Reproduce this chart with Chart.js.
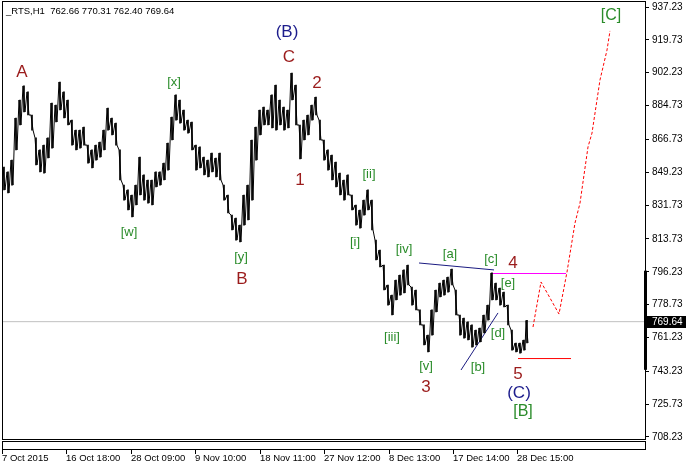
<!DOCTYPE html>
<html>
<head>
<meta charset="utf-8">
<script src="https://cdn.jsdelivr.net/npm/chart.js@4.4.1/dist/chart.umd.min.js"></script>
<style>
  body { margin: 0; background: #fff; }
  #chart { display: block; }
</style>
</head>
<body>
<canvas id="chart" width="686" height="470"></canvas>
<script>
// =========================
// DATA
// =========================

const symbolName = '_RTS,H1';
const lastBarOHLC = [762.66, 770.31, 762.40, 769.64];

const priceTicks = [708.23, 725.73, 743.23, 761.23, 778.73, 796.23, 813.73, 831.73, 849.23, 866.73, 884.73, 902.23, 919.73, 937.23];
const timeTickIndex = [0, 64, 129, 193, 258, 322, 387, 451, 515];
const timeTickLabels = ['7 Oct 2015', '16 Oct 18:00', '28 Oct 09:00', '9 Nov 10:00', '18 Nov 11:00',
                        '27 Nov 12:00', '8 Dec 13:00', '17 Dec 14:00', '28 Dec 15:00'];

// H1 bars, sampled every 4 bars: high / low of each group
const barIndex = [1, 5, 9, 13, 17, 21, 25, 29, 33, 37, 41, 45, 49, 53, 57, 61, 65, 69, 73, 77,
                  81, 85, 89, 93, 97, 101, 105, 109, 113, 117, 121, 125, 129, 133, 137, 141, 145, 149, 153, 157,
                  161, 165, 169, 173, 177, 181, 185, 189, 193, 197, 201, 205, 209, 213, 217, 221, 225, 229, 233, 237,
                  241, 245, 249, 253, 257, 261, 265, 269, 273, 277, 281, 285, 289, 293, 297, 301, 305, 309, 313, 317,
                  321, 325, 329, 333, 337, 341, 345, 349, 353, 357, 361, 365, 369, 373, 377, 381, 385, 389, 393, 397,
                  401, 405, 409, 413, 417, 421, 425, 429, 433, 437, 441, 445, 449, 453, 457, 461, 465, 469, 473, 477,
                  481, 485, 489, 493, 497, 501, 505, 509, 513, 517, 521, 524];
const highs = [852.0, 849.4, 855.7, 878.1, 887.7, 895.2, 892.0, 879.7, 867.5, 861.1, 863.7, 867.5, 886.1, 885.0, 897.3, 892.0, 887.7, 877.0, 871.7, 871.7,
               873.3, 863.7, 861.1, 863.7, 865.3, 871.7, 883.4, 878.1, 875.4, 861.1, 842.4, 839.8, 837.1, 842.4, 857.3, 847.8, 845.1, 845.1, 849.4, 849.4,
               854.1, 864.8, 878.6, 890.4, 887.7, 882.4, 877.0, 876.0, 863.7, 862.7, 857.3, 855.7, 859.5, 856.8, 859.5, 842.4, 837.1, 826.4, 824.8, 821.1,
               837.1, 842.4, 866.4, 873.3, 882.4, 884.0, 882.4, 890.4, 895.7, 887.7, 884.0, 882.4, 902.1, 895.7, 874.4, 877.0, 879.7, 885.0, 889.3, 877.0,
               866.4, 861.1, 858.4, 854.7, 848.8, 845.1, 847.8, 837.1, 831.8, 829.1, 834.4, 839.8, 834.4, 813.1, 807.8, 799.8, 789.2, 783.8, 791.8, 794.5,
               797.2, 799.8, 788.1, 786.5, 775.9, 767.9, 762.5, 775.9, 786.5, 790.2, 791.8, 793.4, 797.7, 786.5, 773.2, 771.6, 769.5, 767.9, 765.2, 766.3,
               773.2, 778.5, 795.6, 790.2, 787.6, 785.4, 778.5, 765.2, 758.3, 758.3, 759.9, 770.3];
const lows = [839.8, 838.2, 842.4, 861.1, 874.4, 881.3, 879.7, 871.7, 853.1, 849.4, 848.8, 856.8, 862.1, 876.0, 882.4, 878.1, 874.4, 863.7, 861.1, 862.1,
              863.7, 854.1, 851.5, 855.7, 857.3, 861.1, 871.7, 869.1, 863.7, 845.1, 834.4, 829.1, 825.4, 831.8, 837.1, 834.4, 832.8, 831.8, 841.4, 842.4,
              845.1, 850.4, 866.4, 877.0, 875.4, 871.7, 870.1, 861.1, 850.4, 851.5, 847.8, 846.7, 849.4, 846.7, 845.1, 834.4, 827.5, 818.5, 813.1, 812.1,
              821.1, 823.8, 834.4, 855.7, 869.1, 874.4, 874.4, 872.8, 871.7, 874.4, 871.7, 872.8, 887.7, 874.4, 856.3, 866.4, 869.1, 877.0, 879.7, 866.4,
              855.7, 850.4, 845.1, 841.4, 837.1, 834.4, 837.1, 829.1, 821.1, 819.5, 826.4, 829.1, 818.5, 802.5, 798.8, 786.5, 778.5, 773.2, 781.2, 783.8,
              784.9, 789.2, 778.5, 775.9, 767.9, 757.2, 753.5, 762.5, 774.8, 782.8, 783.8, 785.4, 789.2, 773.2, 762.5, 760.9, 759.9, 756.1, 757.2, 758.8,
              763.6, 770.5, 781.2, 781.2, 778.5, 777.5, 767.9, 754.5, 753.5, 752.9, 754.5, 758.3];

// drawn objects (bar index / price)
const upperLineIdx = [417, 492];
const upperLinePrice = [800.9, 797.2];
const lowerLineIdx = [459, 496];
const lowerLinePrice = [743.9, 774.3];
const level4Idx = [489, 564];
const level4Price = [795.3, 795.3];
const level5Idx = [516, 569];
const level5Price = [750.0, 750.0];
const forecastIdx = [531, 539, 557, 565, 573, 578, 586, 590, 598, 605, 608];
const forecastPrice = [766.8, 790.8, 773.7, 796.1, 822.2, 832.8, 862.7, 870.1, 898.4, 914.3, 924.5];

// wave count
const waveText = ['A', '[x]', '[w]', '(B)', 'C', '2', '1', '[y]', 'B', '[ii]', '[i]', '[iv]', '[a]', '[c]', '4',
                  '[e]', '[iii]', '[d]', '[v]', '[b]', '3', '5', '(C)', '[B]', '[C]'];
const waveIdx = [20, 172, 127, 285, 287, 315, 298, 239, 240, 367, 353, 402, 448, 489, 511,
                 506, 390, 496, 424, 476, 424, 516, 517, 521, 609];
const wavePrice = [902.6, 897.3, 817.4, 923.9, 910.6, 896.8, 845.1, 804.1, 792.4, 848.3, 812.1, 808.3, 805.7, 803.0, 800.9,
                   790.2, 761.5, 763.6, 746.0, 745.5, 734.8, 741.8, 731.6, 721.5, 932.4];
const waveDegree = ['minor', 'minute', 'minute', 'inter', 'minor', 'minor', 'minor', 'minute', 'minor', 'minute', 'minute', 'minute', 'minute', 'minute', 'minor',
                    'minute', 'minute', 'minute', 'minute', 'minute', 'minor', 'minor', 'inter', 'primary', 'primary'];

// =========================
// STYLE
// =========================

const FONT = "'Liberation Sans', Arial, sans-serif";
const degreeStyle = {
    minor:   { color: '#9b1c1c', size: 17 },
    minute:  { color: '#2a8c2a', size: 13 },
    inter:   { color: '#1c1c8c', size: 17 },
    primary: { color: '#2a8c2a', size: 16 }
};

// =========================
// DATASETS
// =========================

const pricePath = [];
barIndex.forEach((b, i) => {
    pricePath.push({ x: b, y: highs[i] });
    pricePath.push({ x: b + 2, y: lows[i] });
});
const priceRanges = barIndex.map((b, i) => ({ x: b + 1, y: [lows[i], highs[i]] }));

const toPoints = (xs, ys) => xs.map((x, i) => ({ x: x, y: ys[i] }));
const lastClose = lastBarOHLC[3];

const noPad = s => { s.paddingLeft = 0; s.paddingRight = 0; s.paddingTop = 0; s.paddingBottom = 0; };

const mtPlugin = {
    id: 'mtPlugin',
    afterDraw(chart) {
        const ctx = chart.ctx;
        const a = chart.chartArea;
        const xs = chart.scales.x;
        const ys = chart.scales.y;
        ctx.save();

        // frame + empty indicator strip
        ctx.strokeStyle = '#000';
        ctx.lineWidth = 1;
        ctx.strokeRect(a.left + 0.5, a.top + 0.5, a.right - a.left - 1, a.bottom - a.top);
        ctx.strokeRect(a.left + 0.5, a.bottom + 2.5, a.right - a.left - 1, 8);

        // time ticks
        ctx.beginPath();
        timeTickIndex.forEach(v => {
            const px = Math.round(xs.getPixelForValue(v)) + 0.5;
            ctx.moveTo(px, a.bottom + 11);
            ctx.lineTo(px, a.bottom + 15);
        });
        ctx.stroke();

        // thick mark on the price scale
        ctx.fillStyle = '#000';
        const yTop = ys.getPixelForValue(796.8);
        const yBot = ys.getPixelForValue(744.0);
        ctx.fillRect(a.right - 2, yTop, 3, yBot - yTop);

        // title
        ctx.font = '9.5px ' + FONT;
        ctx.fillStyle = '#000';
        ctx.textAlign = 'left';
        ctx.textBaseline = 'middle';
        ctx.fillText(symbolName + '  ' + lastBarOHLC.map(v => v.toFixed(2)).join(' '), 6, 11);

        // current price tag
        ctx.font = '10px ' + FONT;
        const py = Math.round(ys.getPixelForValue(lastClose));
        ctx.fillRect(a.right + 1, py - 6, 40, 12);
        ctx.fillStyle = '#fff';
        ctx.fillText(lastClose.toFixed(2), a.right + 6, py + 0.5);

        // wave labels
        ctx.textAlign = 'center';
        waveText.forEach((t, i) => {
            const st = degreeStyle[waveDegree[i]];
            ctx.font = st.size + 'px ' + FONT;
            ctx.fillStyle = st.color;
            ctx.fillText(t, xs.getPixelForValue(waveIdx[i]), ys.getPixelForValue(wavePrice[i]));
        });

        ctx.restore();
    }
};

new Chart(document.getElementById('chart'), {
    type: 'line',
    data: {
        datasets: [
            {
                type: 'bar',
                data: priceRanges,
                backgroundColor: '#000',
                barThickness: 1,
                borderWidth: 0,
                order: 1
            },
            {
                data: pricePath,
                borderColor: '#000',
                borderWidth: 1,
                pointRadius: 0,
                order: 1
            },
            {
                data: toPoints(upperLineIdx, upperLinePrice),
                borderColor: '#1a1a80',
                borderWidth: 1,
                pointRadius: 0,
                order: 2
            },
            {
                data: toPoints(lowerLineIdx, lowerLinePrice),
                borderColor: '#1a1a80',
                borderWidth: 1,
                pointRadius: 0,
                order: 2
            },
            {
                data: toPoints(level4Idx, level4Price),
                borderColor: '#ff00ff',
                borderWidth: 1,
                pointRadius: 0,
                order: 2
            },
            {
                data: toPoints(level5Idx, level5Price),
                borderColor: '#ff0000',
                borderWidth: 1,
                pointRadius: 0,
                order: 2
            },
            {
                data: toPoints(forecastIdx, forecastPrice),
                borderColor: '#ff0000',
                borderWidth: 1,
                borderDash: [3, 2],
                pointRadius: 0,
                order: 2
            },
            {
                data: [{ x: 0, y: lastClose }, { x: 644, y: lastClose }],
                borderColor: '#c0c0c0',
                borderWidth: 1,
                pointRadius: 0,
                order: 5
            }
        ]
    },
    options: {
        responsive: false,
        animation: false,
        events: [],
        layout: { padding: { left: 2, top: 1, right: 0, bottom: 0 } },
        scales: {
            x: {
                type: 'linear',
                min: 0,
                max: 644,
                offset: false,
                afterBuildTicks: s => { s.ticks = timeTickIndex.map(v => ({ value: v })); },
                afterFit: s => { s.height = 31; noPad(s); },
                grid: { display: false, drawTicks: false },
                border: { display: false },
                ticks: {
                    align: 'start',
                    autoSkip: false,
                    maxRotation: 0,
                    padding: 14,
                    color: '#000',
                    font: { family: FONT, size: 9.5 },
                    callback: (v, i) => timeTickLabels[i]
                }
            },
            y: {
                position: 'right',
                min: 707.16,
                max: 940.43,
                afterBuildTicks: s => { s.ticks = priceTicks.map(v => ({ value: v })); },
                afterFit: s => { s.width = 40; noPad(s); },
                grid: { drawOnChartArea: false, drawTicks: true, tickLength: 3, color: '#000' },
                border: { display: false },
                ticks: {
                    padding: 3,
                    color: '#000',
                    font: { family: FONT, size: 10 },
                    callback: v => v.toFixed(2)
                }
            }
        },
        plugins: {
            legend: { display: false },
            tooltip: { enabled: false },
            title: { display: false }
        }
    },
    plugins: [mtPlugin]
});
</script>
</body>
</html>
